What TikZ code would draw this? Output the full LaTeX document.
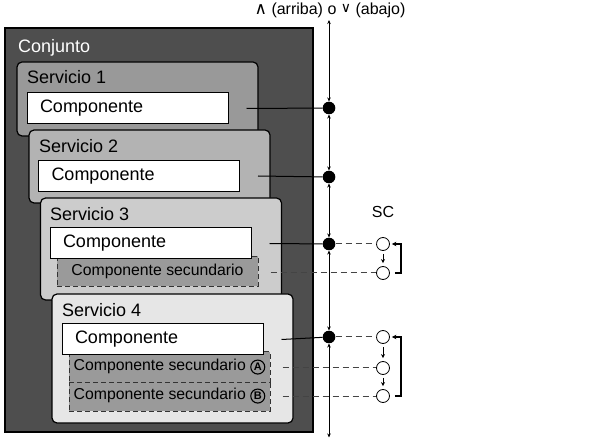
\documentclass[tikz,border=0pt]{standalone}
\usepackage{fontspec}
\setmainfont{Liberation Sans}
\newfontfamily\symfont{DejaVu Sans}
\usetikzlibrary{arrows.meta}
\definecolor{conj}{HTML}{4E4E4E}
\definecolor{sA}{HTML}{999999}
\definecolor{sB}{HTML}{B3B3B3}
\definecolor{sC}{HTML}{CCCCCC}
\definecolor{sD}{HTML}{E6E6E6}
\definecolor{sub}{HTML}{9A9A9A}
\definecolor{dline}{HTML}{444444}
\newcommand{\circlet}[1]{\tikz[baseline=(cl.base)]\node[circle, draw=black, line width=1.1pt, inner sep=0.6pt, minimum size=14pt, font=\bfseries\fontsize{11}{12}\selectfont] (cl) {#1};}
\tikzset{
  every node/.style={font=\fontsize{18}{20}\selectfont},
  conjbox/.style={draw=black, line width=1.2pt, fill=conj, minimum width=308pt, minimum height=404pt, inner sep=0pt},
  serv/.style={draw=black, line width=1.2pt, rounded corners=5pt, minimum width=241pt, inner sep=0pt},
  slabel/.style={anchor=west, inner sep=0pt},
  comp/.style={draw=black, line width=1pt, fill=white, minimum height=31pt, text width=175pt, inner xsep=13pt, inner ysep=0pt, align=left},
  subc/.style={draw=black!80, line width=1pt, dash pattern=on 5pt off 3pt, fill=sub, minimum width=201pt, minimum height=30pt, inner sep=0pt, font=\fontsize{15.8}{18}\selectfont},
  fdot/.style={circle, fill=black, minimum size=12.6pt, inner sep=0pt},
  hdot/.style={circle, draw=black, fill=white, line width=0.8pt, minimum size=13pt, inner sep=0pt},
  solidc/.style={line width=1pt, black},
  dashc/.style={line width=1pt, dline, dash pattern=on 6pt off 4pt},
  vax/.style={line width=1pt, {Stealth[length=4pt,width=3.5pt]}-{Stealth[length=4pt,width=3.5pt]}},
  smallarr/.style={line width=1pt, -{Stealth[length=4pt,width=4pt]}, shorten <=3pt, shorten >=3pt},
  brk/.style={line width=1.6pt, -{Stealth[length=4.5pt,width=4.5pt]}},
}
\begin{document}
\begin{tikzpicture}[x=1pt,y=-1pt]
\useasboundingbox (0,0) rectangle (616,438);
% Conjunto
\node[conjbox] (conj) at (159,230) {};
\node[slabel, text=white] (conjl) at (18,48) {Conjunto};
% Servicio 1
\node[serv, fill=sA, minimum height=74pt] (s1) at (137.5,99) {};
\node[slabel] (s1l) at (27,77) {Servicio 1};
\node[comp] (c1) at (127.5,108.5) {Componente};
% Servicio 2
\node[serv, fill=sB, minimum height=73pt] (s2) at (149.5,166.5) {};
\node[slabel] (s2l) at (39,146) {Servicio 2};
\node[comp] (c2) at (139,176) {Componente};
% Servicio 3
\node[serv, fill=sC, minimum height=102pt] (s3) at (161,249) {};
\node[slabel] (s3l) at (50,214) {Servicio 3};
\node[subc] (sc3) at (157.5,271.5) {Componente secundario};
\node[comp] (c3) at (150.5,243.5) {Componente};
% Servicio 4
\node[serv, fill=sD, minimum height=129pt] (s4) at (172.5,358.5) {};
\node[slabel] (s4l) at (62,310) {Servicio 4};
\node[subc] (sc4b) at (169.5,396) {Componente secundario \circlet{B}};
\node[subc] (sc4a) at (169.5,367) {Componente secundario \circlet{A}};
\node[comp] (c4) at (162.5,339.5) {Componente};
% axis
\node[font=\fontsize{16}{18}\selectfont, inner sep=0pt] (title) at (330,10) {{\symfont\fontsize{17}{18}\selectfont ∧} (arriba) o {\symfont\fontsize{14}{16}\selectfont\raisebox{2pt}{∨}} (abajo)};
\coordinate (top) at (329,20);
\coordinate (bot) at (329,437.5);
\node[fdot] (d1) at (329,108) {};
\node[fdot] (d2) at (329,177) {};
\node[fdot] (d3) at (329,244) {};
\node[fdot] (d4) at (329,337) {};
\draw[vax] (top) -- (d1);
\draw[vax] (d1) -- (d2);
\draw[vax] (d2) -- (d3);
\draw[vax] (d3) -- (d4);
\draw[vax] (d4) -- (bot);
% connectors
\draw[solidc] ([xshift=18pt]c1.east) -- (d1);
\draw[solidc] ([xshift=18pt]c2.east) -- (d2);
\draw[solidc] ([xshift=18pt]c3.east) -- (d3);
\draw[solidc] ([xshift=18pt]c4.east) -- (d4);
% SC
\node[font=\fontsize{16}{18}\selectfont, inner sep=0pt] (sc) at (383,212) {SC};
\node[hdot] (h31) at (383,244) {};
\node[hdot] (h32) at (383,273) {};
\node[hdot] (h41) at (383,337) {};
\node[hdot] (h42) at (383,368) {};
\node[hdot] (h43) at (383,396) {};
\draw[dashc] (d3) -- (h31);
\draw[dashc] ([xshift=12pt]sc3.east |- h32) -- (h32);
\draw[dashc] (d4) -- (h41);
\draw[dashc] ([xshift=12pt]sc4a.east |- h42) -- (h42);
\draw[dashc] ([xshift=12pt]sc4b.east |- h43) -- (h43);
\draw[smallarr] (h31) -- (h32);
\draw[smallarr] (h41) -- (h42);
\draw[smallarr] (h42) -- (h43);
\draw[brk] ([xshift=5pt]h32.east) -- ++(6,0) |- ([xshift=2pt]h31.east);
\draw[brk] ([xshift=5pt]h43.east) -- ++(6,0) |- ([xshift=2pt]h41.east);
\end{tikzpicture}
\end{document}
